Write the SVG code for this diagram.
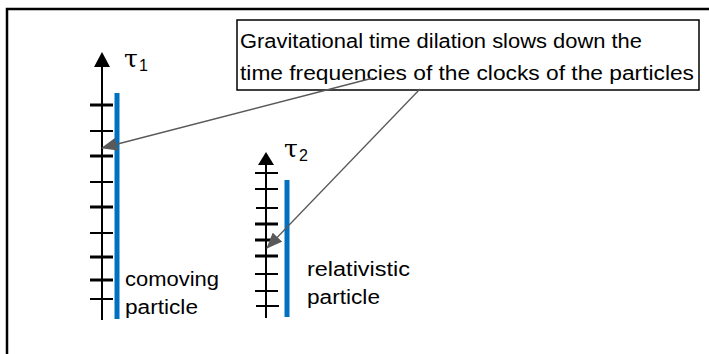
<svg xmlns="http://www.w3.org/2000/svg" width="709" height="354" viewBox="0 0 709 354">
<style>
.t{font-family:"Liberation Sans","Open Sans",Arial,sans-serif;font-size:20px;fill:#000}
.lb{font-size:20px}
.g{font-family:"DejaVu Serif","Liberation Serif",serif;font-size:25px;fill:#000}
.sub{font-family:"Liberation Sans","Open Sans",Arial,sans-serif;font-size:16px;fill:#000}
.ax{stroke:#000;stroke-width:2;fill:none}
.tk{stroke:#000;stroke-width:2}
.tkb{stroke:#000;stroke-width:3}
.blue{stroke:#0070C0;stroke-width:5}
.con{stroke:#595959;stroke-width:1.3;fill:none}
</style>
<defs>
<marker id="ah" markerWidth="16" markerHeight="13" refX="15" refY="6.5" orient="auto" markerUnits="userSpaceOnUse">
<path d="M0,0 L16,6.5 L0,13 Z" fill="#595959"/>
</marker>
</defs>
<path d="M7,360 V9 H715" fill="none" stroke="#000" stroke-width="2.5"/>
<g id="clock1">
<line class="ax" x1="102" y1="60" x2="102" y2="320"/>
<path d="M94,67 L102,52 L110,67 Z" fill="#000"/>
<line class="tkb" x1="90" y1="105" x2="113" y2="105"/>
<line class="tk" x1="90" y1="131" x2="113" y2="131"/>
<line class="tkb" x1="90" y1="156" x2="113" y2="156"/>
<line class="tk" x1="90" y1="182" x2="113" y2="182"/>
<line class="tkb" x1="90" y1="207" x2="113" y2="207"/>
<line class="tk" x1="90" y1="233" x2="113" y2="233"/>
<line class="tkb" x1="90" y1="257" x2="113" y2="257"/>
<line class="tkb" x1="90" y1="280" x2="113" y2="280"/>
<line class="tk" x1="90" y1="299" x2="113" y2="299"/>
<line class="blue" x1="117" y1="93" x2="117" y2="319"/>
<text class="g" x="124" y="67">τ</text>
<text class="sub" x="139" y="71">1</text>
<text class="t lb" x="125" y="286" textLength="94" lengthAdjust="spacingAndGlyphs">comoving</text>
<text class="t lb" x="125" y="314" textLength="73" lengthAdjust="spacingAndGlyphs">particle</text>
</g>
<g id="clock2">
<line class="ax" x1="266" y1="160" x2="266" y2="318"/>
<path d="M258,165 L266,152 L274,165 Z" fill="#000"/>
<line class="tk" x1="255" y1="173" x2="278" y2="173"/>
<line class="tk" x1="255" y1="189" x2="278" y2="189"/>
<line class="tk" x1="256" y1="208" x2="278" y2="208"/>
<line class="tkb" x1="255" y1="224" x2="278" y2="224"/>
<line class="tkb" x1="255" y1="240" x2="275" y2="240"/>
<line class="tkb" x1="255" y1="256" x2="278" y2="256"/>
<line class="tk" x1="255" y1="274" x2="278" y2="274"/>
<line class="tk" x1="255" y1="291" x2="278" y2="291"/>
<line class="tk" x1="256" y1="306" x2="279" y2="306"/>
<line class="blue" x1="287" y1="180" x2="287" y2="317"/>
<text class="g" x="284" y="157">τ</text>
<text class="sub" x="299" y="161">2</text>
<text class="t lb" x="307" y="276" textLength="103" lengthAdjust="spacingAndGlyphs">relativistic</text>
<text class="t lb" x="307" y="304" textLength="73" lengthAdjust="spacingAndGlyphs">particle</text>
</g>
<g id="note">
<rect x="237" y="20" width="462" height="70" fill="none" stroke="#000" stroke-width="1.5"/>
<text class="t" x="240" y="48" textLength="402" lengthAdjust="spacingAndGlyphs">Gravitational time dilation slows down the</text>
<text class="t" x="240" y="80" textLength="454" lengthAdjust="spacingAndGlyphs">time frequencies of the clocks of the particles</text>
</g>
<g id="connectors">
<line class="con" x1="373" y1="78" x2="102" y2="148" marker-end="url(#ah)"/>
<line class="con" x1="420" y1="89" x2="267" y2="248" marker-end="url(#ah)"/>
</g>
</svg>
